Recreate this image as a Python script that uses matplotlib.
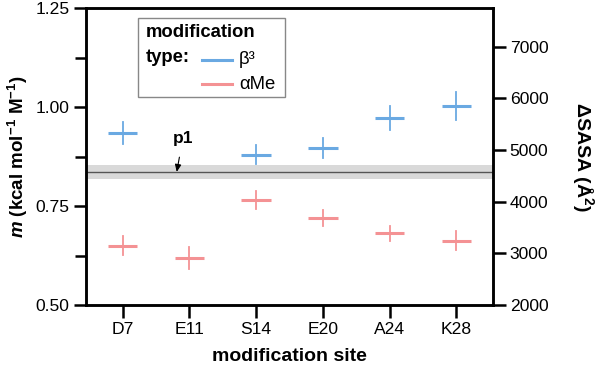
import matplotlib
matplotlib.use("Agg")
import matplotlib.pyplot as plt
from matplotlib.patches import Rectangle
from matplotlib.lines import Line2D

plt.rcParams['font.family'] = ['Liberation Sans', 'DejaVu Sans']
plt.rcParams['mathtext.fontset'] = 'custom'
plt.rcParams['mathtext.rm'] = 'Liberation Sans'
plt.rcParams['mathtext.it'] = 'Liberation Sans:italic'
plt.rcParams['mathtext.bf'] = 'Liberation Sans:bold'
plt.rcParams['mathtext.bfit'] = 'Liberation Sans:bold:italic'

sites = ["D7", "E11", "S14", "E20", "A24", "K28"]
beta3_sites = ["D7", "S14", "E20", "A24", "K28"]
beta3_m = [0.935, 0.880, 0.897, 0.973, 1.002]
beta3_err = [0.028, 0.024, 0.025, 0.030, 0.035]
ame_sites = ["D7", "E11", "S14", "E20", "A24", "K28"]
ame_m = [0.650, 0.619, 0.765, 0.720, 0.681, 0.662]
ame_err = [0.024, 0.027, 0.022, 0.020, 0.019, 0.024]
p1_m = 0.836
p1_err = 0.018

blue = "#6aa9e2"
red = "#f49294"

fig = plt.figure(figsize=(5.99, 3.65), dpi=100)
ax = fig.add_axes([86/599, 1-305/365, (493-86)/599, (305-8)/365])
ax2 = ax.twinx()

xpos = {s: i for i, s in enumerate(sites)}
hw = 0.22

# p1 band and line
ax.axhspan(p1_m - p1_err, p1_m + p1_err, color="#d9d9d9", zorder=1, lw=0)
ax.axhline(p1_m, color="#555555", lw=1.0, zorder=2)

for s, v, e in zip(beta3_sites, beta3_m, beta3_err):
    x = xpos[s]
    ax.plot([x - hw, x + hw], [v, v], color=blue, lw=2.2, solid_capstyle='butt', zorder=3)
    ax.plot([x, x], [v - e, v + e], color=blue, lw=1.3, zorder=3)
for s, v, e in zip(ame_sites, ame_m, ame_err):
    x = xpos[s]
    ax.plot([x - hw, x + hw], [v, v], color=red, lw=2.2, solid_capstyle='butt', zorder=3)
    ax.plot([x, x], [v - e, v + e], color=red, lw=1.3, zorder=3)

ax.annotate("p1", xy=(0.81, p1_m), xytext=(0.9, 0.92), ha="center", va="center",
            fontsize=12.5, fontweight="bold",
            arrowprops=dict(arrowstyle="-|>,head_length=0.35,head_width=0.15", color="black", lw=0.8,
                            shrinkA=6, shrinkB=0))

ax.set_xlim(-0.55, 5.55)
ax.set_ylim(0.50, 1.25)
ax.set_xticks(range(len(sites)))
ax.set_xticklabels(sites)
ax.set_yticks([0.50, 0.75, 1.00, 1.25])
ax.set_yticklabels(["0.50", "0.75", "1.00", "1.25"])
ax.set_yticks([0.625, 0.875, 1.125], minor=True)

ax2.set_ylim(2000, 7750)
ax2.set_yticks([2000, 3000, 4000, 5000, 6000, 7000])

for a in (ax, ax2):
    for sp in a.spines.values():
        sp.set_linewidth(1.8)
    a.tick_params(axis='both', which='major', length=9, width=1.8, labelsize=12.6, pad=3)
    a.tick_params(axis='both', which='minor', length=8, width=1.8)

ax.set_ylabel(r"$\bfit{m}$ (kcal mol$^{\mathbf{-1}}$ M$^{\mathbf{-1}}$)", fontsize=13.5,
              fontweight="bold", labelpad=4)
ax.set_xlabel("modification site", fontsize=14, fontweight="bold", labelpad=8)
ax2.set_ylabel("ΔSASA (Å$^{\\mathbf{2}}$)", fontsize=14, fontweight="bold",
               rotation=270, labelpad=34)

# legend drawn manually
tr = ax.transAxes
ax.add_patch(Rectangle((0.128, 0.70), 0.361, 0.266, transform=tr, fill=False,
                       edgecolor="#888888", lw=1.0, zorder=5))
ax.text(0.148, 0.919, "modification", transform=tr, fontsize=13.3, fontweight="bold",
        va="center", ha="left", zorder=6)
ax.text(0.148, 0.832, "type:", transform=tr, fontsize=13.3, fontweight="bold",
        va="center", ha="left", zorder=6)
ax.add_line(Line2D([0.285, 0.359], [0.825, 0.825], transform=tr, color=blue, lw=2.2, zorder=6))
ax.add_line(Line2D([0.285, 0.359], [0.744, 0.744], transform=tr, color=red, lw=2.2, zorder=6))
ax.text(0.376, 0.825, "β³", transform=tr, fontsize=13.3, va="center", ha="left", zorder=6)
ax.text(0.376, 0.744, "αMe", transform=tr, fontsize=13.3, va="center", ha="left", zorder=6)

fig.savefig("out.png", dpi=100)
